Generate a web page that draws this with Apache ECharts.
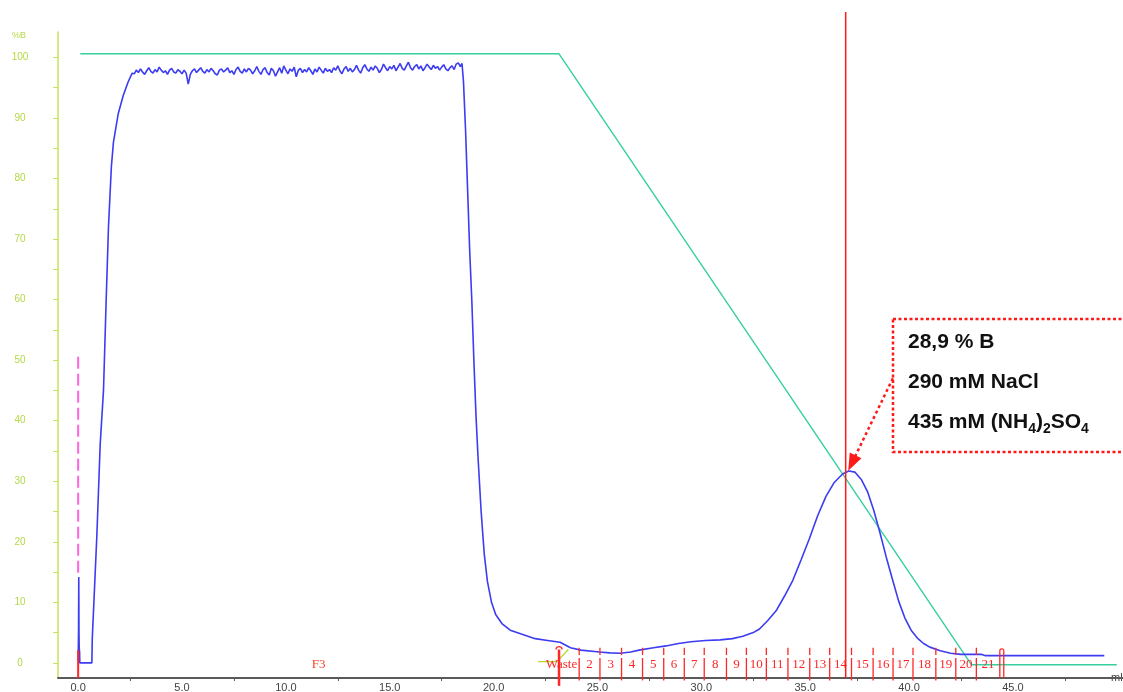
<!DOCTYPE html>
<html><head><meta charset="utf-8">
<script src="https://cdn.jsdelivr.net/npm/echarts@6/dist/echarts.min.js"></script>
<style>html,body{margin:0;padding:0;background:#fff}#c{width:1123px;height:692px}</style>
</head><body><div id="c"></div>
<script>
// ---------- data ----------
const xLabelValues = [0, 5, 10, 15, 20, 25, 30, 35, 40, 45];
const xTickValues = [2.5, 7.5, 12.5, 17.5, 22.5, 27.5, 32.5, 37.5, 42.5, 47.5];
const yLabelValues = [0, 10, 20, 30, 40, 50, 60, 70, 80, 90, 100];
const yTickValues = [0, 5, 10, 15, 20, 25, 30, 35, 40, 45, 50, 55, 60, 65, 70, 75, 80, 85, 90, 95, 100];

// UV trace: start, noisy plateau, tail with elution peak
const uvStartMl  = [0.0, 0.02, 0.03, 0.04, 0.05, 0.07, 0.08, 0.66, 0.68, 0.9, 1.06, 1.22, 1.35, 1.46, 1.6, 1.7, 1.93, 2.17, 2.4, 2.6];
const uvStartVal = [0.3, 5.5, 14.2, 5.0, 2.5, 1.8, 0.0, 0.0, 4.0, 21.0, 36.0, 45.0, 60.0, 72.0, 82.0, 86.0, 90.7, 93.7, 95.9, 97.4];
const plateauStartMl = 2.7, plateauStepMl = 0.1;
const plateauVal = [
  97.3, 97.9, 97.5, 98.1, 97.6, 97.2, 97.8, 98.3, 97.7, 97.4, 98.0, 97.6, 98.4, 97.9,
  97.5, 97.8, 97.2, 97.9, 98.2, 97.6, 97.4, 98.0, 97.7, 97.3,
  97.9, 97.4, 95.6, 97.2, 97.8, 98.1, 97.5, 97.9, 98.3, 97.7,
  97.4, 98.0, 97.6, 98.2, 97.8, 97.3, 97.1, 97.9, 98.1, 97.6,
  97.9, 98.3, 97.5, 97.8, 97.2, 98.0, 98.4, 97.7, 97.4, 98.1,
  97.6, 98.2, 97.9, 97.3, 97.8, 98.5, 97.7, 97.2, 98.0, 98.3,
  97.5, 97.1, 98.2, 97.8, 96.9, 97.6, 98.3, 97.4, 98.6, 97.9,
  97.3, 98.1, 97.7, 98.4, 96.8, 97.9, 98.2, 97.5, 98.0, 97.6,
  98.3, 97.8, 97.2, 98.1, 97.6, 98.4, 97.9, 97.4, 98.2, 97.7,
  98.0, 97.5, 98.3, 97.9, 98.6, 97.8, 97.3, 98.1, 98.5, 97.7,
  98.2, 97.6, 98.0, 98.7, 97.9, 97.4, 98.3, 98.8, 98.1, 97.7,
  98.4, 97.9, 98.6, 98.2, 97.5, 98.0, 98.9, 98.3, 97.8, 98.5,
  98.1, 98.7, 97.8, 98.4, 99.0, 98.2, 97.9, 98.6, 99.2, 98.3,
  97.9, 98.5, 98.8, 98.1, 98.6, 97.8, 98.3, 98.9, 98.4, 98.0,
  98.7, 98.2, 98.5, 97.9, 98.4, 98.8, 98.1, 97.8, 98.3, 98.6,
  98.0, 98.9, 99.1, 98.5
];
const uvTailMl  = [18.48, 18.55, 18.65, 18.75, 18.85, 18.95, 19.05, 19.15, 19.25, 19.4, 19.55, 19.7, 19.9, 20.1, 20.4, 20.8, 21.3, 22.0, 22.6, 23.2, 23.7, 24.2, 25.1, 25.6, 26.1, 26.6, 27.0, 27.7, 28.3, 28.9, 29.5, 30.2, 30.9, 31.5, 32.0, 32.5, 32.8, 33.2, 33.6, 34.0, 34.4, 34.8, 35.2, 35.6, 36.0, 36.4, 36.8, 37.1, 37.4, 37.7, 38.0, 38.3, 38.6, 38.9, 39.2, 39.5, 39.8, 40.1, 40.4, 40.7, 41.0, 41.5, 42.0, 42.5, 43.5, 43.65, 49.4];
const uvTailVal = [99.0, 96, 88, 78, 68, 60, 50, 41, 34, 25, 18, 13.5, 10, 8, 6.5, 5.4, 4.8, 4.0, 3.7, 3.4, 2.5, 2.1, 1.8, 1.65, 1.6, 1.8, 2.1, 2.5, 2.8, 3.2, 3.5, 3.7, 3.8, 4.0, 4.4, 5.0, 5.6, 7.0, 8.6, 11, 13.6, 17, 20.5, 24.3, 27.5, 29.8, 31.2, 31.7, 31.5, 30.3, 28.3, 25.2, 21.5, 17.5, 13.8, 10.2, 7.4, 5.4, 4.1, 3.2, 2.6, 2.0, 1.6, 1.4, 1.4, 1.2, 1.2];

// gradient (%B)
const gradMl  = [0.1, 23.15, 43.0, 50.0];
const gradVal = [100.6, 100.6, -0.3, -0.3];

// small conductivity-like segment near waste marker
const condMl  = [22.15, 23.04, 23.6];
const condVal = [0.2, 0.2, 2.2];

// injection mark
const injMl = 0.0, injFrom = 14.9, injTo = 51.3;

// fractions
const fracStarts = [24.12, 25.12, 26.16, 27.17, 28.19, 29.18, 30.14, 31.21, 32.17, 33.13, 34.17, 35.22, 36.18, 37.23, 38.27, 39.23, 40.19, 41.29, 42.25, 43.24];
const fracLabels = ['2','3','4','5','6','7','8','9','10','11','12','13','14','15','16','17','18','19','20','21'];
const fracEndMl = [44.37, 44.56];
const eventMl = [0.0, 23.15];
const eventLabels = ['F3', 'Waste'];

// peak marker
const peakMl = 36.95;
const arrowFrom = [39.22, 47.0], arrowTo = [37.25, 33.0];

// ---------- chart ----------
const RED = '#ff2626';
const uvData = [];
uvStartMl.forEach((m, i) => uvData.push([m, uvStartVal[i]]));
plateauVal.forEach((v, i) => uvData.push([+(plateauStartMl + i * plateauStepMl).toFixed(2), v]));
uvTailMl.forEach((m, i) => uvData.push([m, uvTailVal[i]]));

function fracRender(params, api) {
  const i = params.dataIndex;
  const s = fracStarts[i];
  const e = i + 1 < fracStarts.length ? fracStarts[i + 1] : fracEndMl[0];
  const p0 = api.coord([s, -2.9]), p1 = api.coord([s, 0.8]);
  const t0 = api.coord([s, 1.3]), t1 = api.coord([s, 2.5]);
  const mid = api.coord([(s + e) / 2, -0.35]);
  const st = { stroke: RED, lineWidth: 1.3 };
  return { type: 'group', children: [
    { type: 'line', shape: { x1: p0[0], y1: p0[1], x2: p1[0], y2: p1[1] }, style: st },
    { type: 'line', shape: { x1: t0[0], y1: t0[1], x2: t1[0], y2: t1[1] }, style: st },
    { type: 'text', x: mid[0], y: mid[1], style: { text: fracLabels[i], fill: RED, font: '13px "Liberation Serif", serif', align: 'center', verticalAlign: 'middle' } }
  ]};
}

function eventRender(params, api) {
  const i = params.dataIndex;
  const m = eventMl[i];
  const children = [];
  if (i === 0) {
    const a = api.coord([m, -2.5]), b = api.coord([m, 2.1]);
    children.push({ type: 'line', shape: { x1: a[0], y1: a[1], x2: b[0], y2: b[1] }, style: { stroke: RED, lineWidth: 2 } });
    const c = api.coord([(eventMl[0] + eventMl[1]) / 2, -0.3]);
    children.push({ type: 'text', x: c[0], y: c[1], style: { text: eventLabels[0], fill: '#ff4020', font: '13px "Liberation Serif", serif', align: 'center', verticalAlign: 'middle' } });
  } else {
    const a = api.coord([m, -3.8]), b = api.coord([m, 2.2]);
    children.push({ type: 'line', shape: { x1: a[0], y1: a[1], x2: b[0], y2: b[1] }, style: { stroke: RED, lineWidth: 2.5 } });
    children.push({ type: 'arc', shape: { cx: b[0], cy: b[1], r: 3, startAngle: Math.PI, endAngle: 2 * Math.PI }, style: { stroke: RED, lineWidth: 1.3, fill: null } });
    const c = api.coord([fracStarts[0], -0.3]);
    children.push({ type: 'text', x: c[0] - 2, y: c[1], style: { text: eventLabels[1], fill: RED, font: '13px "Liberation Serif", serif', align: 'right', verticalAlign: 'middle' } });
  }
  return { type: 'group', children };
}

function endRender(params, api) {
  const a0 = api.coord([fracEndMl[0], -2.5]), a1 = api.coord([fracEndMl[0], 2.0]);
  const b0 = api.coord([fracEndMl[1], -2.5]), b1 = api.coord([fracEndMl[1], 2.0]);
  const st = { stroke: RED, lineWidth: 1.3 };
  return { type: 'group', children: [
    { type: 'line', shape: { x1: a0[0], y1: a0[1], x2: a1[0], y2: a1[1] }, style: st },
    { type: 'line', shape: { x1: b0[0], y1: b0[1], x2: b1[0], y2: b1[1] }, style: st },
    { type: 'arc', shape: { cx: (a1[0] + b1[0]) / 2, cy: a1[1], r: (b1[0] - a1[0]) / 2, startAngle: Math.PI, endAngle: 2 * Math.PI }, style: { stroke: RED, lineWidth: 1.3, fill: null } }
  ]};
}

const chart = echarts.init(document.getElementById('c'), null, { renderer: 'canvas' });
const font = '"Liberation Sans", Arial, sans-serif';
chart.setOption({
  animation: false,
  backgroundColor: '#ffffff',
  grid: [
    { left: 58, right: 0, top: 32, bottom: 14, outerBoundsMode: 'none' },
    { left: 58, right: 0, top: 12, bottom: 14, outerBoundsMode: 'none' }
  ],
  xAxis: [
    { type: 'value', gridIndex: 0, min: -0.97, max: 50.3,
      axisLine: { onZero: false, lineStyle: { color: '#5a5a5a', width: 2 } },
      axisTick: { customValues: xTickValues, length: 3, lineStyle: { color: '#5a5a5a' } },
      axisLabel: { customValues: xLabelValues, formatter: v => v.toFixed(1), color: '#444', fontSize: 11, fontFamily: font, margin: 4 },
      splitLine: { show: false },
      name: 'ml', nameLocation: 'end', nameGap: -12,
      nameTextStyle: { color: '#444', fontSize: 11, fontFamily: font, padding: [18, 0, 0, 0] } },
    { type: 'value', gridIndex: 1, min: -0.97, max: 50.3, show: false }
  ],
  yAxis: [
    { type: 'value', gridIndex: 0, min: -2.5, max: 104.2,
      axisLine: { show: true, onZero: false, lineStyle: { color: '#c4e25e', width: 1.5 } },
      axisTick: { show: true, customValues: yTickValues, length: 5, lineStyle: { color: '#c4e25e' } },
      axisLabel: { customValues: yLabelValues, color: '#b3d944', fontSize: 10, fontFamily: font, align: 'center', margin: 38 },
      splitLine: { show: false } },
    { type: 'value', gridIndex: 1, min: 0, max: 1, show: false }
  ],
  series: [
    { type: 'line', name: 'gradient', xAxisIndex: 0, yAxisIndex: 0, showSymbol: false, symbol: 'none',
      data: gradMl.map((m, i) => [m, gradVal[i]]),
      lineStyle: { color: '#35cfa0', width: 1.4 },
      markLine: { silent: true, symbol: ['none', 'triangle'], symbolSize: [13, 17], label: { show: false },
        lineStyle: { color: '#ff1a1a', type: [3, 3], width: 2.5 },
        data: [[{ coord: arrowFrom }, { coord: arrowTo }]] } },
    { type: 'line', name: 'UV', xAxisIndex: 0, yAxisIndex: 0, showSymbol: false, symbol: 'none',
      data: uvData, lineStyle: { color: '#3c3cf2', width: 1.6 } },
    { type: 'line', name: 'cond', showSymbol: false, symbol: 'none',
      data: condMl.map((m, i) => [m, condVal[i]]), lineStyle: { color: '#b5d820', width: 1.3 } },
    { type: 'line', name: 'inject', showSymbol: false, symbol: 'none',
      data: [[injMl, injFrom], [injMl, injTo]], lineStyle: { color: '#ff66dd', width: 2, type: [12, 5] } },
    { type: 'custom', name: 'fractions', clip: false, renderItem: fracRender,
      data: fracStarts.map((s, i) => [s, i]), z: 5 },
    { type: 'custom', name: 'events', clip: false, renderItem: eventRender,
      data: eventMl.map((m, i) => [m, i]), z: 5 },
    { type: 'custom', name: 'end', clip: false, renderItem: endRender,
      data: [[fracEndMl[0], 0]], z: 5 },
    { type: 'line', name: 'peak', xAxisIndex: 1, yAxisIndex: 1, showSymbol: false, symbol: 'none',
      data: [[peakMl, 0], [peakMl, 1]], lineStyle: { color: '#ff1a1a', width: 1.5 }, z: 6 }
  ],
  graphic: [
    { type: 'text', x: 12, y: 36, style: { text: '%B', fill: '#b3d944', font: '9px ' + font, verticalAlign: 'middle' } },
    { type: 'rect', shape: { x: 893, y: 319, width: 240, height: 133 }, style: { fill: null, stroke: '#ff1a1a', lineWidth: 2.5, lineDash: [3, 2.5] } },
    { type: 'text', x: 908, y: 342, style: { text: '28,9 % B', fill: '#111', fontSize: 21, fontWeight: 'bold', fontFamily: font, verticalAlign: 'middle' } },
    { type: 'text', x: 908, y: 382, style: { text: '290 mM NaCl', fill: '#111', fontSize: 21, fontWeight: 'bold', fontFamily: font, verticalAlign: 'middle' } },
    { type: 'text', x: 908, y: 422, style: { text: '435 mM (NH{s|4}){s|2}SO{s|4}', fill: '#111', fontSize: 21, fontWeight: 'bold', fontFamily: font, lineHeight: 28, verticalAlign: 'middle',
      rich: { s: { fontSize: 14, fontWeight: 'bold', fontFamily: font, fill: '#111', lineHeight: 12, verticalAlign: 'bottom' } } } }
  ]
});
</script></body></html>
